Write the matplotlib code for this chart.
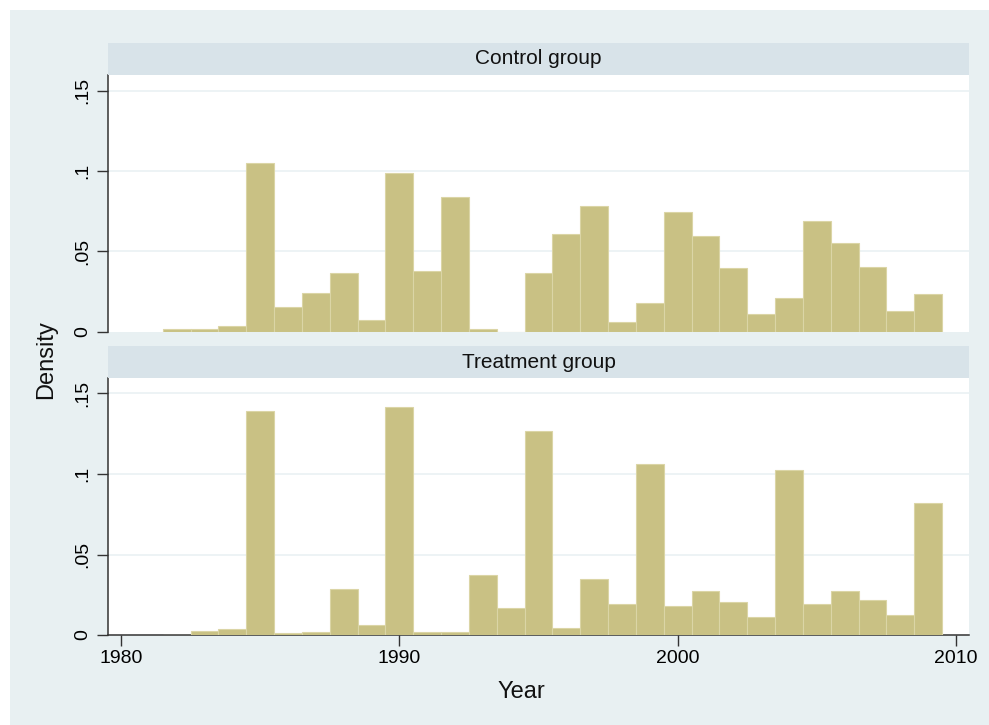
import matplotlib
matplotlib.use("Agg")
import matplotlib.pyplot as plt
from matplotlib.patches import Rectangle

plt.rcParams['font.family'] = ['Liberation Sans', 'DejaVu Sans']

years = list(range(1982, 2010))
control = [0.0015, 0.0015, 0.0037, 0.105, 0.0151, 0.0242, 0.0368, 0.0071,
           0.0986, 0.038, 0.0835, 0.0015, 0.0, 0.0368, 0.0608, 0.0779,
           0.0058, 0.0176, 0.0746, 0.0595, 0.0395, 0.0108, 0.0209, 0.0688,
           0.0554, 0.0403, 0.0128, 0.0232]
treatment = [0.0, 0.0025, 0.0037, 0.139, 0.001, 0.002, 0.0284, 0.0062,
             0.1418, 0.002, 0.002, 0.0373, 0.0168, 0.1267, 0.0042, 0.035,
             0.019, 0.106, 0.0178, 0.0271, 0.0205, 0.011, 0.1027, 0.019,
             0.0271, 0.0215, 0.0122, 0.0822]
panel_titles = ["Control group", "Treatment group"]
yticks = [0, 0.05, 0.1, 0.15]
ytick_labels = ["0", ".05", ".1", ".15"]
xticks = [1980, 1990, 2000, 2010]

W, H = 989, 725
fig = plt.figure(figsize=(W / 100, H / 100), dpi=100)
fig.patch.set_facecolor("white")

bg = "#e8f0f2"
strip_c = "#d8e3e9"
bar_c = "#c9c184"
edge_c = "#dbd5a6"
grid_c = "#eaf1f3"
axis_c = "#333333"

fig.add_artist(Rectangle((10 / W, 0), (W - 10) / W, (H - 10) / H,
                         transform=fig.transFigure, facecolor=bg,
                         edgecolor="none", zorder=-10))

def fx(px):
    return px / W

def fy(py):
    return 1 - py / H

left_px, right_px = 108, 969
panels = [(75, 331.7, 43), (378, 635, 346)]
xlim = (1980 - (121 - 108) / 27.83, 2010 + (969 - 956) / 27.83)

axes = []
for i, ((top, bot, stop), data, title) in enumerate(zip(panels, [control, treatment], panel_titles)):
    ax = fig.add_axes([fx(left_px), fy(bot), fx(right_px - left_px), (bot - top) / H])
    ax.set_facecolor("white")
    ax.bar(years, data, width=1.0, color=bar_c, edgecolor=edge_c, linewidth=0.8, zorder=3)
    ax.set_xlim(*xlim)
    ymax = 0.15 + (15.0 / ((bot - top))) * (0.15 / (1 - 15.0 / (bot - top))) * 1.0
    ax.set_ylim(0, 0.15 * (bot - top) / (bot - top - 15.5))
    ax.set_yticks(yticks)
    ax.set_yticklabels(ytick_labels, rotation=90, va="center", fontsize=14)
    for yv in yticks[1:]:
        ax.axhline(yv, color=grid_c, linewidth=1.2, zorder=1)
    ax.tick_params(axis="y", direction="out", length=8, width=1, color=axis_c, pad=4)
    for s in ["top", "right"]:
        ax.spines[s].set_visible(False)
    ax.spines["left"].set_color(axis_c)
    ax.spines["left"].set_linewidth(1.1)
    if i == 0:
        ax.spines["bottom"].set_visible(False)
        ax.set_xticks([])
    else:
        ax.spines["bottom"].set_color(axis_c)
        ax.spines["bottom"].set_linewidth(1.1)
        ax.set_xticks(xticks)
        ax.set_xticklabels([str(x) for x in xticks], fontsize=14)
        ax.tick_params(axis="x", direction="out", length=8, width=1, color=axis_c, pad=3)
    # strip
    sax = fig.add_axes([fx(left_px), fy(top), fx(right_px - left_px), (top - stop) / H])
    sax.set_facecolor(strip_c)
    sax.set_xticks([])
    sax.set_yticks([])
    for s in sax.spines.values():
        s.set_visible(False)
    sax.text(0.5, 0.5, title, ha="center", va="center", fontsize=15, color="#111111",
             transform=sax.transAxes)
    axes.append(ax)

fig.text(fx(46), fy(360), "Density", rotation=90, ha="center", va="center", fontsize=17, color="#111111")
fig.text(fx(521), fy(692), "Year", ha="center", va="center", fontsize=17, color="#111111")

fig.savefig("out.png", dpi=100, facecolor=fig.get_facecolor())
